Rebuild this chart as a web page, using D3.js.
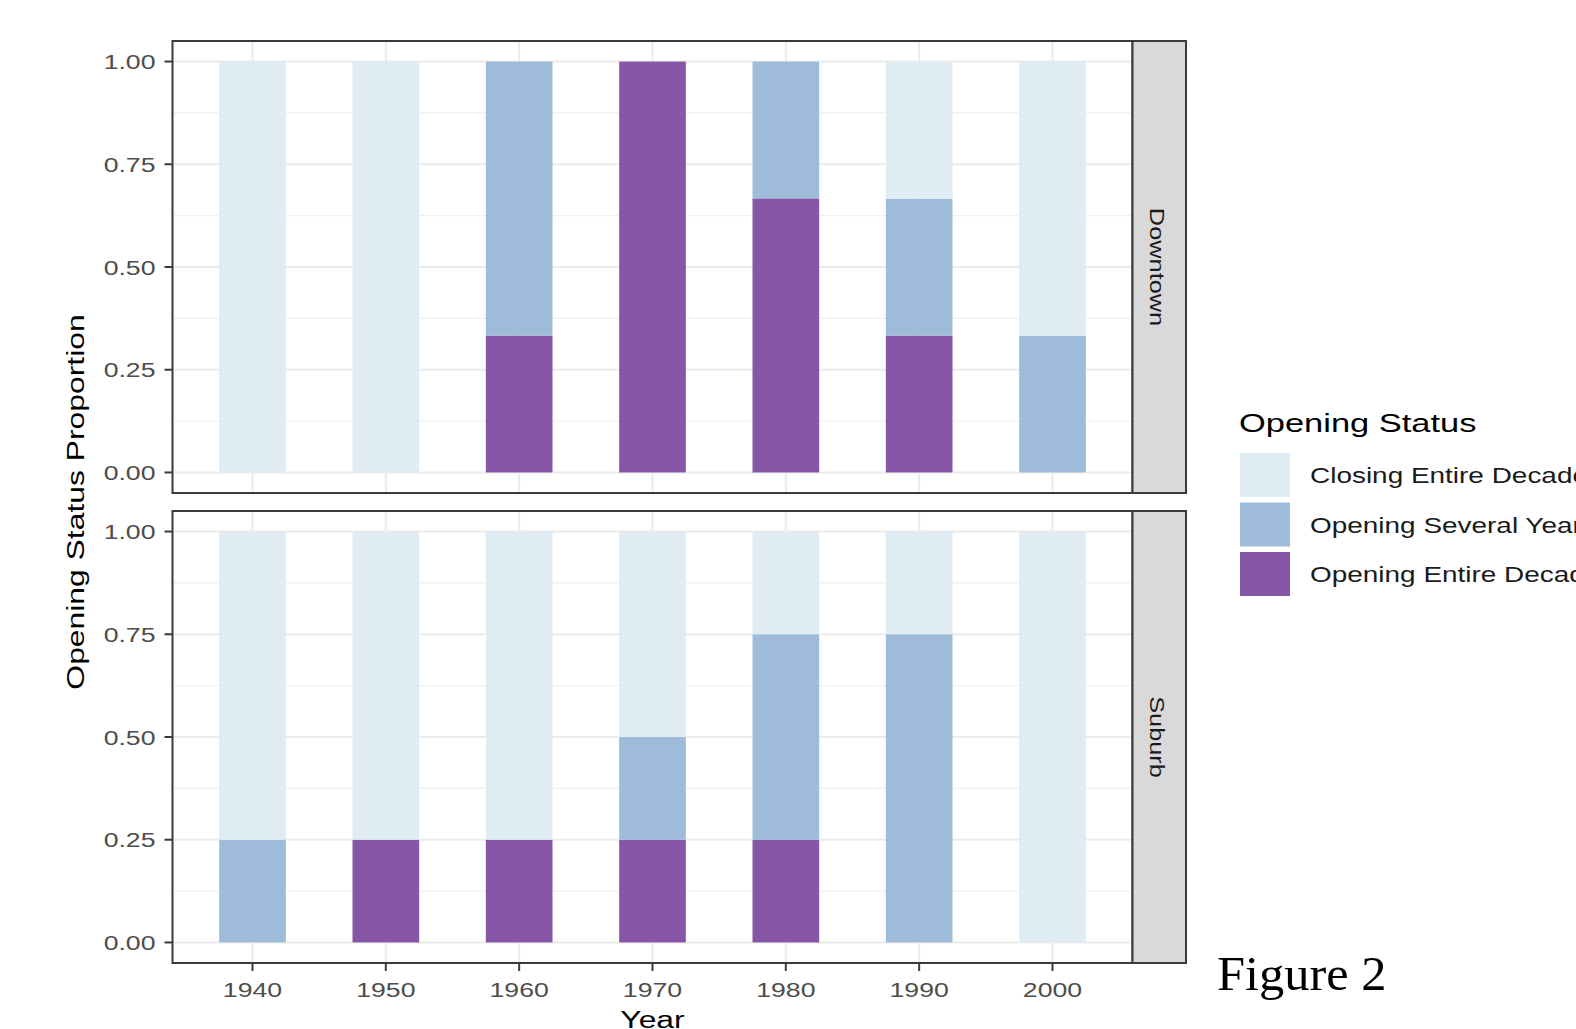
<!DOCTYPE html>
<html>
<head>
<meta charset="utf-8">
<script src="https://cdnjs.cloudflare.com/ajax/libs/d3/7.8.5/d3.min.js"></script>
<style>
  body { margin: 0; background: #fff; }
  text { font-family: "Liberation Sans", Arial, sans-serif; }
  text.caption { font-family: "Liberation Serif", "DejaVu Serif", serif; }
</style>
</head>
<body>
<div id="chart"></div>
<script>
// values
var years = ["1940", "1950", "1960", "1970", "1980", "1990", "2000"];
var statuses = ["Closing Entire Decade", "Opening Several Years", "Opening Entire Decade"];
var facets = ["Downtown", "Suburb"];
var yTicks = [0, 0.25, 0.5, 0.75, 1];

var downtownClosing = [1, 1, 0, 0, 0, 0.333, 0.667];
var downtownSeveral = [0, 0, 0.667, 0, 0.333, 0.333, 0.333];
var downtownEntire  = [0, 0, 0.333, 1, 0.667, 0.333, 0];

var suburbClosing = [0.75, 0.75, 0.75, 0.5, 0.25, 0.25, 1];
var suburbSeveral = [0.25, 0, 0, 0.25, 0.5, 0.75, 0];
var suburbEntire  = [0, 0.25, 0.25, 0.25, 0.25, 0, 0];

var colors = ["#e0ecf4", "#9ebcda", "#8856a7"];

var W = 1576, H = 1029;
var SX = 1.3; // the figure's text is stretched sideways

var svg = d3.select("#chart").append("svg")
    .attr("width", W)
    .attr("height", H);
svg.append("rect").attr("width", W).attr("height", H).attr("fill", "#fff");

function label(g, x, y, rot, str) {
  return g.append("text")
    .attr("transform", "translate(" + x + "," + y + ") rotate(" + rot + ") scale(" + SX + ",1)")
    .text(str);
}

var left = 172.5, right = 1132.5, stripW = 53.5;
var panels = [{ top: 41, bottom: 493 }, { top: 511, bottom: 963 }];

var x = d3.scalePoint().domain(years).range([left, right]).padding(0.6);
var barW = x.step() * 0.5;

function rows(closing, several, entire) {
  return years.map(function(yr, i) {
    var r = { year: yr };
    r[statuses[0]] = closing[i];
    r[statuses[1]] = several[i];
    r[statuses[2]] = entire[i];
    return r;
  });
}
var facetData = [
  rows(downtownClosing, downtownSeveral, downtownEntire),
  rows(suburbClosing, suburbSeveral, suburbEntire)
];

// bottom of the stack is "Opening Entire Decade"
var stack = d3.stack().keys([statuses[2], statuses[1], statuses[0]]);
var colorOf = d3.scaleOrdinal().domain(statuses).range(colors);

panels.forEach(function(p, pi) {
  var y = d3.scaleLinear().domain([-0.05, 1.05]).range([p.bottom, p.top]);
  var g = svg.append("g");

  // minor + major grid
  var minor = d3.range(0.125, 1, 0.25);
  g.selectAll(".minor").data(minor).enter().append("line")
    .attr("x1", left).attr("x2", right)
    .attr("y1", function(d) { return y(d); }).attr("y2", function(d) { return y(d); })
    .attr("stroke", "#efefef").attr("stroke-width", 1.3);
  g.selectAll(".majory").data(yTicks).enter().append("line")
    .attr("x1", left).attr("x2", right)
    .attr("y1", function(d) { return y(d); }).attr("y2", function(d) { return y(d); })
    .attr("stroke", "#ebebeb").attr("stroke-width", 2);
  g.selectAll(".majorx").data(years).enter().append("line")
    .attr("x1", function(d) { return x(d); }).attr("x2", function(d) { return x(d); })
    .attr("y1", p.top).attr("y2", p.bottom)
    .attr("stroke", "#ebebeb").attr("stroke-width", 2);

  // bars
  var series = stack(facetData[pi]);
  g.selectAll(".layer").data(series).enter().append("g")
    .attr("fill", function(s) { return colorOf(s.key); })
    .selectAll("rect").data(function(s) { return s; }).enter().append("rect")
    .attr("x", function(d) { return x(d.data.year) - barW / 2; })
    .attr("width", barW)
    .attr("y", function(d) { return y(d[1]); })
    .attr("height", function(d) { return Math.max(0, y(d[0]) - y(d[1])); });

  // panel border
  g.append("rect")
    .attr("x", left).attr("y", p.top)
    .attr("width", right - left).attr("height", p.bottom - p.top)
    .attr("fill", "none").attr("stroke", "#3a3a3a").attr("stroke-width", 2);

  // strip
  g.append("rect")
    .attr("x", right).attr("y", p.top)
    .attr("width", stripW).attr("height", p.bottom - p.top)
    .attr("fill", "#d9d9d9").attr("stroke", "#3a3a3a").attr("stroke-width", 2);
  label(g, right + stripW / 2 - 9, (p.top + p.bottom) / 2, 90, facets[pi])
    .attr("text-anchor", "middle")
    .attr("font-size", 19.5)
    .attr("fill", "#1a1a1a");

  // y axis
  var yAxis = g.append("g");
  yAxis.selectAll("line").data(yTicks).enter().append("line")
    .attr("x1", left - 8).attr("x2", left)
    .attr("y1", function(d) { return y(d); }).attr("y2", function(d) { return y(d); })
    .attr("stroke", "#3a3a3a").attr("stroke-width", 2);
  yAxis.selectAll("text").data(yTicks).enter().append("text")
    .attr("transform", function(d) { return "translate(" + (left - 17) + "," + (y(d) + 7.5) + ") scale(" + SX + ",1)"; })
    .attr("text-anchor", "end")
    .attr("font-size", 20.5)
    .attr("fill", "#4d4d4d")
    .text(function(d) { return d3.format(".2f")(d); });
});

// x axis under the bottom panel
var xb = panels[1].bottom;
var xAxis = svg.append("g");
xAxis.selectAll("line").data(years).enter().append("line")
  .attr("x1", function(d) { return x(d); }).attr("x2", function(d) { return x(d); })
  .attr("y1", xb).attr("y2", xb + 8)
  .attr("stroke", "#3a3a3a").attr("stroke-width", 2);
xAxis.selectAll("text").data(years).enter().append("text")
  .attr("transform", function(d) { return "translate(" + x(d) + "," + (xb + 34) + ") scale(" + SX + ",1)"; })
  .attr("text-anchor", "middle")
  .attr("font-size", 20.5)
  .attr("fill", "#4d4d4d")
  .text(function(d) { return d; });

// axis titles
label(svg, (left + right) / 2, 1028, 0, "Year")
  .attr("text-anchor", "middle").attr("font-size", 24.5).attr("fill", "#000");
label(svg, 84, (panels[0].top + panels[1].bottom) / 2, -90, "Opening Status Proportion")
  .attr("text-anchor", "middle").attr("font-size", 24.5).attr("fill", "#000");

// legend
var leg = svg.append("g");
label(leg, 1239, 432, 0, "Opening Status").attr("font-size", 26.5).attr("fill", "#000");
statuses.forEach(function(s, i) {
  var ky = 453 + i * 49.5;
  leg.append("rect")
    .attr("x", 1240).attr("y", ky)
    .attr("width", 50).attr("height", 44)
    .attr("fill", colorOf(s));
  label(leg, 1310, ky + 22 + 8, 0, s).attr("font-size", 21.5).attr("fill", "#1a1a1a");
});

// caption beside the chart
svg.append("text")
  .attr("class", "caption")
  .attr("transform", "translate(1217,990) scale(1.05,1)")
  .attr("font-size", 48)
  .attr("fill", "#000")
  .text("Figure 2");
</script>
</body>
</html>
